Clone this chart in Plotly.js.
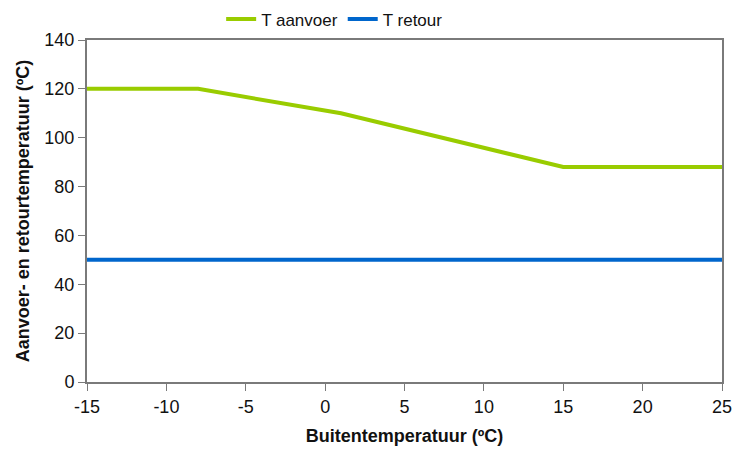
<!DOCTYPE html>
<html><head><meta charset="utf-8">
<script src="https://cdn.plot.ly/plotly-3.0.1.min.js"></script>
<style>html,body{margin:0;padding:0;background:#fff}</style>
</head><body><div id="chart" style="width:735px;height:452px"></div>
<script>
const aanvoerX = [-15, -8, 1, 15, 25];
const aanvoerY = [120, 120, 110, 88, 88];
const retourX = [-15, 25];
const retourY = [50, 50];
const xTicks = [-15, -10, -5, 0, 5, 10, 15, 20, 25];
const yTicks = [0, 20, 40, 60, 80, 100, 120, 140];

const font = 'Liberation Sans, Arial, sans-serif';
const traces = [
  {x: aanvoerX, y: aanvoerY, mode: 'lines', name: 'T aanvoer', line: {color: '#99cc00', width: 4}},
  {x: retourX, y: retourY, mode: 'lines', name: 'T retour', line: {color: '#0066cc', width: 4}}
];
const axisCommon = {showgrid: false, zeroline: false, showline: true, mirror: true, linecolor: '#7a7a7a', linewidth: 2,
  ticks: 'outside', ticklen: 7, tickcolor: '#7a7a7a', tickwidth: 1, tickfont: {family: font, size: 18, color: '#111'}};
const layout = {
  width: 735, height: 452,
  margin: {l: 87, r: 13, t: 40, b: 70, autoexpand: false},
  paper_bgcolor: '#fff', plot_bgcolor: '#fff',
  showlegend: true,
  legend: {orientation: 'h', x: 0.39, xanchor: 'center', y: 1.06, yanchor: 'middle', bgcolor: 'rgba(0,0,0,0)',
    font: {family: font, size: 17, color: '#111'}, tracegroupgap: 0},
  xaxis: Object.assign({}, axisCommon, {range: [-15, 25], tickvals: xTicks, ticktext: xTicks.map(String),
    title: {text: '<b>Buitentemperatuur (ºC)</b>', font: {family: font, size: 18, color: '#111'}, standoff: 14}}),
  yaxis: Object.assign({}, axisCommon, {range: [0, 140], tickvals: yTicks, ticktext: yTicks.map(String),
    title: {text: '<b>Aanvoer- en retourtemperatuur (ºC)</b>', font: {family: font, size: 18, color: '#111'}, standoff: 10}})
};
Plotly.newPlot('chart', traces, layout, {displayModeBar: false, staticPlot: true});
</script></body></html>
